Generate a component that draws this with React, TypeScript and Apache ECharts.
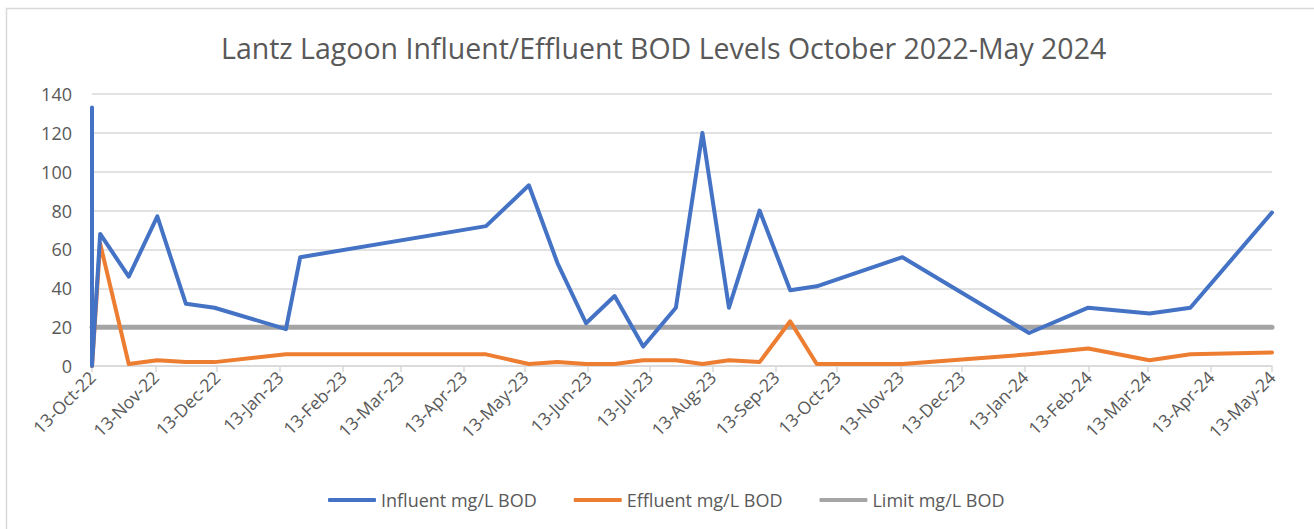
import React, { useEffect, useRef } from "react";
import * as echarts from "echarts";

const titleText = "Lantz Lagoon Influent/Effluent BOD Levels October 2022-May 2024";

const sampleDates = [
  "2022-10-13", "2022-10-13", "2022-10-17", "2022-10-31", "2022-11-14", "2022-11-28",
  "2022-12-12", "2023-01-16", "2023-01-23", "2023-04-24", "2023-05-15", "2023-05-29",
  "2023-06-12", "2023-06-26", "2023-07-10", "2023-07-26", "2023-08-08", "2023-08-21",
  "2023-09-05", "2023-09-20", "2023-10-03", "2023-11-14", "2024-01-15", "2024-02-13",
  "2024-03-14", "2024-04-03", "2024-05-13",
];

const influent = [
  133, 0, 68, 46, 77, 32, 30, 19, 56, 72, 93, 53, 22, 36, 10, 30, 120, 30, 80, 39, 41,
  56, 17, 30, 27, 30, 79,
];

const effluent = [
  0, 0, 63, 1, 3, 2, 2, 6, 6, 6, 1, 2, 1, 1, 3, 3, 1, 3, 2, 23, 1, 1, 6, 9, 3, 6, 7,
];

const limit = [
  20, 20, 20, 20, 20, 20, 20, 20, 20, 20, 20, 20, 20, 20, 20, 20, 20, 20, 20, 20, 20,
  20, 20, 20, 20, 20, 20,
];

const tickDates = [
  "2022-10-13", "2022-11-13", "2022-12-13", "2023-01-13", "2023-02-13", "2023-03-13",
  "2023-04-13", "2023-05-13", "2023-06-13", "2023-07-13", "2023-08-13", "2023-09-13",
  "2023-10-13", "2023-11-13", "2023-12-13", "2024-01-13", "2024-02-13", "2024-03-13",
  "2024-04-13", "2024-05-13",
];

const seriesNames = ["Influent mg/L BOD", "Effluent mg/L BOD", "Limit mg/L BOD"];
const seriesColors = ["#4472C4", "#ED7D31", "#A5A5A5"];

const MONTHS = ["Jan", "Feb", "Mar", "Apr", "May", "Jun", "Jul", "Aug", "Sep", "Oct", "Nov", "Dec"];

function ts(s: string): number {
  const [y, m, d] = s.split("-").map(Number);
  return Date.UTC(y, m - 1, d);
}

function fmt(v: number): string {
  const d = new Date(v);
  const yy = String(d.getUTCFullYear() % 100).padStart(2, "0");
  return `${d.getUTCDate()}-${MONTHS[d.getUTCMonth()]}-${yy}`;
}

const FONT = "'Open Sans', 'Noto Sans', sans-serif";

export default function App() {
  const ref = useRef<HTMLDivElement>(null);

  useEffect(() => {
    if (!ref.current) return;
    const chart = echarts.init(ref.current, undefined, { renderer: "svg" });
    const xs = sampleDates.map(ts);
    const ticks = tickDates.map(ts);
    const mk = (vals: number[]) => vals.map((v, i) => [xs[i], v]);
    const allVals = [influent, effluent, limit];

    chart.setOption({
      animation: false,
      backgroundColor: "#ffffff",
      title: {
        text: titleText,
        left: 216,
        top: 28,
        textStyle: {
          fontFamily: FONT,
          fontSize: 28.5,
          fontWeight: "normal",
          color: "#595959",
        },
      },
      graphic: [
        {
          type: "rect",
          shape: { x: 6.5, y: 8.5, width: 1340, height: 560 },
          style: { fill: "none", stroke: "#d9d9d9", lineWidth: 1.5 },
          silent: true,
        },
      ],
      legend: {
        top: 486,
        left: 323,
        itemWidth: 48,
        itemHeight: 4,
        itemGap: 37,
        icon: "roundRect",
        data: seriesNames,
        textStyle: { fontFamily: FONT, fontSize: 18, color: "#595959" },
      },
      grid: { left: 92, right: 42, top: 94, bottom: 163, containLabel: false },
      xAxis: {
        type: "value",
        min: ticks[0],
        max: ticks[ticks.length - 1],
        axisLine: { show: true, lineStyle: { color: "#d9d9d9", width: 1.5 } },
        axisTick: {
          show: true,
          customValues: ticks,
          length: 6,
          lineStyle: { color: "#d9d9d9", width: 1.5 },
        },
        axisLabel: {
          customValues: ticks,
          rotate: 45,
          margin: 8,
          fontFamily: FONT,
          fontSize: 17.5,
          color: "#595959",
          formatter: (v: number) => fmt(v),
          hideOverlap: false,
        },
        splitLine: { show: false },
      },
      yAxis: {
        type: "value",
        min: 0,
        max: 140,
        interval: 20,
        axisLine: { show: false },
        axisTick: { show: false },
        axisLabel: { fontFamily: FONT, fontSize: 18, color: "#595959", margin: 20 },
        splitLine: { lineStyle: { color: "#d9d9d9", width: 1.5 } },
      },
      series: seriesNames.map((name, k) => ({
        name,
        type: "line",
        data: mk(allVals[k]),
        showSymbol: false,
        symbol: "none",
        color: seriesColors[k],
        lineStyle: { color: seriesColors[k], width: k === 2 ? 5 : 4, cap: "round", join: "round" },
        z: k === 2 ? 1 : 3 - k + 1,
      })),
    });
    return () => chart.dispose();
  }, []);

  return (
    <div
      ref={ref}
      style={{ position: "fixed", left: 0, top: 0, width: 1314, height: 529, background: "#fff" }}
    />
  );
}
